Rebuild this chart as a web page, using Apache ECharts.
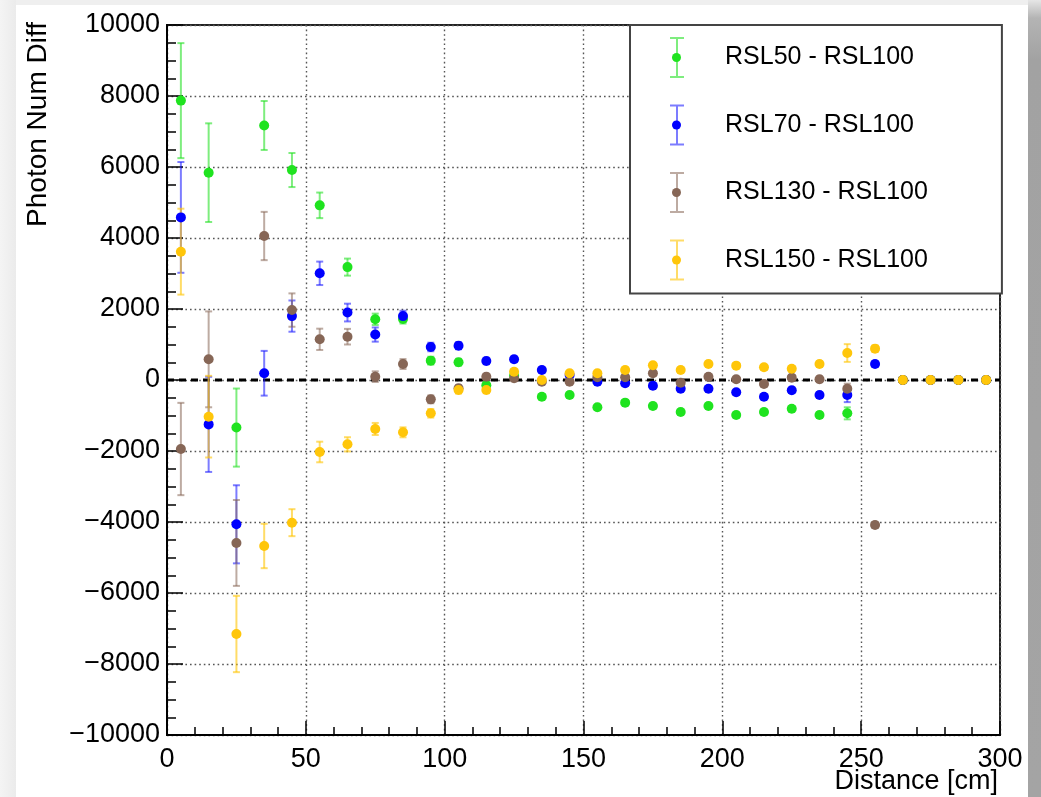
<!DOCTYPE html>
<html>
<head>
<meta charset="utf-8">
<title>Photon Num Diff vs Distance</title>
<script src="https://cdn.jsdelivr.net/npm/echarts@6/dist/echarts.min.js"></script>
<style>
  html, body { margin: 0; padding: 0; width: 1041px; height: 797px; overflow: hidden; background: #f2f2f2; }
  #leftEdge { position: absolute; left: 0; top: 0; width: 16px; height: 797px; background: linear-gradient(to right, #f4f4f4, #ebebeb); }
  #topEdge { position: absolute; left: 0; top: 0; width: 1041px; height: 5px; background: #efefef; }
  #card { position: absolute; left: 16px; top: 5px; width: 1012px; height: 800px; background: #ffffff; }
  #rightEdge { position: absolute; left: 1028px; top: 0; width: 13px; height: 797px;
               background: linear-gradient(to bottom, #e6e6e6 0px, #b4b4b4 18px, #a2a2a2 60px, #a4a4a4 100%); }
  #chart { position: absolute; left: 0; top: 0; width: 1041px; height: 797px; }
</style>
</head>
<body>
<div id="topEdge"></div>
<div id="leftEdge"></div>
<div id="card"></div>
<div id="rightEdge"></div>
<div id="chart"></div>
<script>
// Distance bin centres [cm]
const distance = [5, 15, 25, 35, 45, 55, 65, 75, 85, 95, 105, 115, 125, 135, 145,
                  155, 165, 175, 185, 195, 205, 215, 225, 235, 245, 255, 265, 275, 285, 295];

// Photon number differences with respect to RSL100
const rsl50  = [7870, 5840, -1340, 7170, 5915, 4920, 3180, 1710, 1720, 545, 500, -150, 120, -470, -423,
                -770, -638, -732, -901, -732, -986, -901, -808, -986, -939, null, 0, 0, 0, 0];
const rsl50Err = [1620, 1390, 1100, 690, 480, 360, 240, 160, 130, 110, 95, 85, 80, 75, 75,
                  70, 70, 70, 70, 70, 70, 70, 75, 80, 170, 0, 0, 0, 0, 0];

const rsl70  = [4580, -1250, -4065, 190, 1800, 3005, 1900, 1280, 1800, 930, 967, 535, 583, 282, 140,
                -47, -94, -160, -244, -244, -347, -470, -291, -423, -423, 450, 0, 0, 0, 0];
const rsl70Err = [1560, 1340, 1100, 630, 440, 330, 250, 200, 150, 120, 100, 90, 80, 75, 75,
                  70, 70, 70, 70, 70, 70, 70, 75, 80, 200, 80, 0, 0, 0, 0];

const rsl130 = [-1944, 582, -4590, 4056, 1970, 1146, 1220, 94, 450, -545, -235, 94, 47, -47, -47,
                80, 75, 188, -75, 94, 19, -113, 66, 19, -244, -4085, 0, 0, 0, 0];
const rsl130Err = [1300, 1350, 1210, 680, 470, 300, 220, 150, 140, 110, 95, 85, 80, 75, 75,
                   70, 70, 70, 70, 70, 70, 70, 75, 80, 140, 80, 0, 0, 0, 0];

const rsl150 = [3615, -1033, -7155, -4676, -4019, -2028, -1812, -1380, -1474, -939, -282, -282, 234, 0, 188,
                188, 282, 413, 282, 450, 404, 357, 319, 450, 760, 883, 0, 0, 0, 0];
const rsl150Err = [1210, 1150, 1075, 625, 380, 290, 200, 170, 140, 120, 100, 90, 80, 75, 75,
                   70, 70, 70, 70, 70, 70, 70, 75, 80, 250, 90, 0, 0, 0, 0];

const seriesNames = ['RSL50 - RSL100', 'RSL70 - RSL100', 'RSL130 - RSL100', 'RSL150 - RSL100'];
const seriesValues = [rsl50, rsl70, rsl130, rsl150];
const seriesErrors = [rsl50Err, rsl70Err, rsl130Err, rsl150Err];
const markerColors = ['#1fe31f', '#0000ff', '#866656', '#ffc60a'];
const barColors = ['rgba(40,225,40,0.6)', 'rgba(30,30,255,0.58)', 'rgba(134,102,86,0.55)', 'rgba(255,198,10,0.62)'];

const FONT = 'Liberation Sans, Arial, Helvetica, sans-serif';

function rows(values, errors) {
  const out = [];
  for (let i = 0; i < distance.length; i++) {
    if (values[i] === null) continue;
    out.push([distance[i], values[i], errors[i]]);
  }
  return out;
}

// Vertical error bar with small end caps
function errorBar(color) {
  return function (params, api) {
    const x = api.value(0), y = api.value(1), e = api.value(2);
    const hi = api.coord([x, y + e]);
    const lo = api.coord([x, y - e]);
    const hw = 3.5;
    const st = { stroke: color, lineWidth: 2 };
    return {
      type: 'group',
      children: [
        { type: 'line', shape: { x1: hi[0], y1: hi[1], x2: lo[0], y2: lo[1] }, style: st },
        { type: 'line', shape: { x1: hi[0] - hw, y1: hi[1], x2: hi[0] + hw, y2: hi[1] }, style: st },
        { type: 'line', shape: { x1: lo[0] - hw, y1: lo[1], x2: lo[0] + hw, y2: lo[1] }, style: st }
      ]
    };
  };
}

const series = [{
  type: 'line',
  name: 'zero',
  data: [[0, 0], [300, 0]],
  symbol: 'none',
  silent: true,
  lineStyle: { color: '#000', width: 3, type: [7, 5] },
  z: 1
}];

seriesNames.forEach(function (name, k) {
  series.push({
    type: 'custom',
    name: name,
    renderItem: errorBar(barColors[k]),
    encode: { x: 0, y: 1 },
    data: rows(seriesValues[k], seriesErrors[k]),
    clip: true,
    z: 2
  });
  series.push({
    type: 'scatter',
    name: name,
    data: rows(seriesValues[k], seriesErrors[k]).map(function (r) { return [r[0], r[1]]; }),
    symbol: 'circle',
    symbolSize: 10,
    itemStyle: { color: markerColors[k], opacity: 1 },
    z: 2
  });
});

// Legend icon: error bar with caps
const ibeam = 'path://M0 0H14V2H0Z M6 0H8V41H6Z M0 39H14V41H0Z';

const splitStyle = { show: true, lineStyle: { color: '#555', width: 1.4, type: [1.6, 3] } };
const minusFmt = function (v) { return String(v).replace('-', '\u2212'); };

const option = {
  animation: false,
  textStyle: { fontFamily: FONT },
  grid: {
    left: 167, right: 41, top: 25, bottom: 62,
    outerBoundsMode: 'none',
    containLabel: false,
    show: true, borderColor: '#222', borderWidth: 2, backgroundColor: 'transparent'
  },
  xAxis: {
    type: 'value', min: 0, max: 300, interval: 50,
    name: 'Distance [cm]',
    nameLocation: 'end',
    nameGap: -2,
    nameMoveOverlap: false,
    nameTextStyle: { fontSize: 27, color: '#000', align: 'right', verticalAlign: 'top', padding: [33, 0, 0, 0], fontFamily: FONT },
    axisLine: { show: true, onZero: false, lineStyle: { color: '#000', width: 2 } },
    axisTick: { show: true, inside: true, length: 14, lineStyle: { color: '#000', width: 1.5 } },
    minorTick: { show: true, splitNumber: 5, length: 8, lineStyle: { color: '#000', width: 1.5 } },
    axisLabel: { fontSize: 27, color: '#000', margin: 11, fontFamily: FONT, formatter: minusFmt },
    splitLine: splitStyle
  },
  yAxis: {
    type: 'value', min: -10000, max: 10000, interval: 2000,
    name: 'Photon Num Diff',
    nameLocation: 'end',
    nameRotate: 90,
    nameGap: 3,
    nameMoveOverlap: false,
    nameTextStyle: { fontSize: 28, color: '#000', align: 'right', verticalAlign: 'bottom', padding: [0, 0, 115, 0], fontFamily: FONT },
    axisLine: { show: true, onZero: false, lineStyle: { color: '#000', width: 2 } },
    axisTick: { show: true, inside: true, length: 16, lineStyle: { color: '#000', width: 1.5 } },
    minorTick: { show: true, splitNumber: 4, length: 9, lineStyle: { color: '#000', width: 1.5 } },
    axisLabel: { fontSize: 27, color: '#000', margin: 7, fontFamily: FONT, formatter: minusFmt },
    splitLine: splitStyle
  },
  legend: [{
    orient: 'vertical',
    left: 630, top: 25,
    padding: [12, 74, 13, 40],
    backgroundColor: '#fff',
    borderColor: '#444', borderWidth: 2,
    itemWidth: 14, itemHeight: 41, itemGap: 26.5,
    textStyle: { fontSize: 25, color: '#000', fontFamily: FONT, padding: [0, 0, 0, 36] },
    data: seriesNames.map(function (n, k) {
      return { name: n, icon: ibeam, itemStyle: { color: barColors[k] } };
    })
  }, {
    orient: 'vertical',
    left: 672, top: 53,
    padding: 0,
    selectedMode: false,
    itemWidth: 9, itemHeight: 9, itemGap: 58.5,
    formatter: function () { return ''; },
    textStyle: { fontSize: 1 },
    data: seriesNames.map(function (n, k) {
      return { name: n, icon: 'circle', itemStyle: { color: markerColors[k] } };
    }),
    z: 5
  }],
  series: series
};

const chart = echarts.init(document.getElementById('chart'), null, { renderer: 'canvas' });
chart.setOption(option);
</script>
</body>
</html>
